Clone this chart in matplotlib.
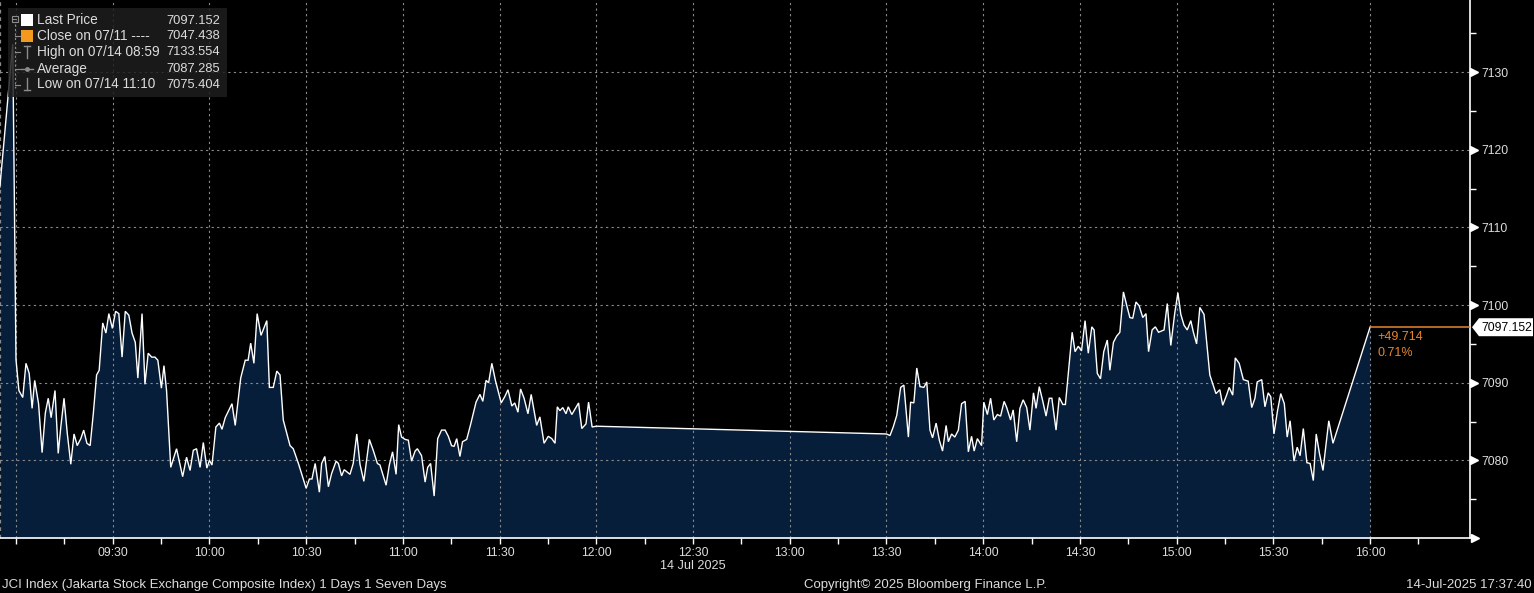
import matplotlib
matplotlib.use("Agg")
import matplotlib.pyplot as plt
import matplotlib.transforms as mtransforms
from matplotlib.patches import Rectangle, Polygon
from matplotlib.ticker import FixedLocator, FixedFormatter
import numpy as np

# ---------------- data (minutes after 09:00, index level) ----------------
morning_min = [-5, -1, 0, 0.9, 2.1, 3.1, 4.1, 5.0, 5.8, 7.0, 8.1, 9.1, 10.0, 10.9, 12.1, 13.1, 13.9, 14.9,
               15.9, 17.0, 18.0, 19.0, 20.1, 21.0, 22.0, 23.0, 24.0, 25.0, 25.8, 26.9, 27.9, 28.8, 29.9,
               30.9, 31.9, 32.9, 33.9, 35.0, 36.0, 37.0, 37.8, 39.1, 40.0, 41.0, 42.1, 43.1, 44.0, 45.1,
               45.9, 46.7, 48.0, 49.8, 51.7, 52.9, 54.0, 55.0, 56.0, 57.1, 58.1, 59.2, 60.0, 60.8, 62.0,
               63.1, 63.9, 64.9, 67.0, 68.0, 69.7, 71.1, 72.0, 72.8, 73.8, 74.8, 76.0, 77.8, 78.6, 79.8,
               80.9, 81.9, 82.9, 85.0, 86.0, 87.6, 90.0, 91.0, 91.8, 92.8, 94.1, 94.8, 95.8, 96.9, 97.9,
               99.3, 100.0, 101.0, 101.8, 103.6, 104.6, 105.7, 106.7, 107.9, 109.6, 110.8, 112.1, 112.9,
               114.8, 115.8, 116.8, 117.9, 118.7, 119.6, 120.7, 121.7, 122.7, 123.8, 124.5, 125.8, 126.9,
               127.7, 128.6, 129.7, 130.8, 132.0, 133.1, 134.1, 135.1, 135.9, 136.7, 137.7, 138.5, 139.8,
               141.0, 142.7, 143.9, 144.8, 145.8, 146.6, 147.6, 148.7, 150.5, 151.6, 152.6, 153.8, 154.7,
               155.7, 156.5, 157.6, 158.8, 159.8, 160.7, 161.5, 162.5, 163.8, 165.1, 166.2, 167.2, 167.9,
               168.7, 169.6, 170.6, 171.3, 172.4, 173.5, 174.5, 175.5, 176.8, 177.6, 178.7, 180.0]
morning_val = [7115.2, 7133.6, 7093.0, 7089.0, 7088.1, 7092.5, 7091.2, 7086.7, 7090.3, 7087.3, 7081.0, 7086.1,
               7088.0, 7085.5, 7089.0, 7080.9, 7084.3, 7088.0, 7083.5, 7079.5, 7083.4, 7081.9, 7082.8, 7083.9,
               7082.2, 7081.9, 7086.1, 7091.0, 7091.6, 7097.7, 7096.4, 7098.9, 7097.0, 7099.2, 7098.9, 7093.3,
               7099.2, 7098.7, 7096.4, 7095.2, 7090.6, 7098.9, 7089.8, 7093.8, 7093.3, 7093.3, 7092.9, 7089.3,
               7092.2, 7089.0, 7079.1, 7081.5, 7077.9, 7080.4, 7078.7, 7081.3, 7081.5, 7079.1, 7082.3, 7079.0,
               7080.0, 7079.4, 7084.3, 7084.8, 7084.0, 7085.5, 7087.3, 7084.5, 7090.6, 7092.9, 7092.9, 7095.1,
               7092.5, 7098.9, 7096.1, 7098.0, 7089.4, 7089.4, 7091.5, 7091.0, 7085.2, 7081.9, 7081.5, 7079.6,
               7076.4, 7077.6, 7077.6, 7079.6, 7075.9, 7079.6, 7080.5, 7076.6, 7078.3, 7079.9, 7079.6, 7078.0,
               7078.8, 7078.2, 7079.6, 7083.4, 7079.5, 7077.3, 7082.7, 7081.3, 7079.6, 7079.4, 7076.8, 7079.4,
               7081.1, 7078.2, 7084.6, 7083.0, 7082.7, 7082.6, 7079.9, 7081.2, 7081.5, 7080.6, 7077.2, 7079.1,
               7079.6, 7075.4, 7082.8, 7083.9, 7083.9, 7083.1, 7081.9, 7081.8, 7082.8, 7080.5, 7082.4, 7082.7,
               7084.6, 7087.5, 7088.5, 7087.6, 7090.3, 7090.0, 7092.5, 7090.3, 7087.4, 7088.2, 7089.1, 7087.0,
               7087.4, 7086.2, 7089.2, 7088.0, 7086.0, 7088.5, 7086.4, 7084.5, 7085.6, 7082.2, 7083.1, 7082.8,
               7082.2, 7086.9, 7086.4, 7086.8, 7086.0, 7086.9, 7085.9, 7086.7, 7087.4, 7084.1, 7084.7, 7087.5,
               7084.3, 7084.4]

afternoon_min = [270.0, 271.1, 272.1, 273.2, 274.4, 275.4, 276.8, 277.5, 278.5, 279.4, 280.4, 281.6, 282.5,
                 283.5, 284.3, 285.4, 286.4, 287.4, 288.5, 289.2, 290.2, 291.2, 292.3, 293.3, 294.4, 295.4,
                 296.4, 297.2, 298.2, 299.5, 300.2, 301.3, 302.3, 303.3, 304.4, 305.4, 306.5, 307.3, 308.5,
                 309.3, 310.4, 311.4, 312.4, 313.5, 314.5, 315.6, 316.4, 317.4, 318.5, 319.5, 320.5, 321.3,
                 322.6, 323.6, 324.7, 325.5, 326.7, 327.6, 328.5, 329.5, 330.5, 331.6, 332.6, 333.7, 334.4,
                 335.4, 336.4, 337.4, 338.5, 339.3, 340.4, 341.4, 342.4, 343.5, 344.5, 345.5, 346.4, 347.4,
                 348.4, 349.5, 350.5, 351.3, 352.4, 353.4, 354.4, 356.1, 357.1, 358.2, 359.4, 360.4, 361.3,
                 362.3, 363.3, 364.4, 365.2, 366.2, 367.2, 368.5, 370.3, 372.2, 373.4, 374.3, 375.5, 376.3,
                 377.4, 378.2, 379.4, 380.7, 382.2, 383.3, 384.3, 385.0, 386.4, 387.4, 388.4, 389.2, 390.2,
                 391.3, 392.3, 393.4, 394.3, 395.2, 396.4, 397.4, 398.3, 399.3, 400.4, 401.4, 402.4, 403.3,
                 404.3, 405.4, 407.2, 408.5, 420.0]
afternoon_val = [7083.4, 7083.2, 7084.3, 7085.8, 7089.4, 7089.7, 7083.0, 7087.5, 7087.4, 7091.9, 7089.5,
                 7089.4, 7090.1, 7083.9, 7082.9, 7084.8, 7082.6, 7081.2, 7084.5, 7082.4, 7083.4, 7083.0,
                 7083.9, 7087.3, 7087.6, 7081.1, 7083.1, 7081.2, 7082.8, 7081.9, 7087.5, 7085.9, 7088.0,
                 7085.2, 7085.9, 7085.7, 7087.6, 7086.8, 7085.2, 7086.5, 7082.4, 7086.7, 7087.8, 7086.8,
                 7083.9, 7088.7, 7086.7, 7089.5, 7087.6, 7085.7, 7088.0, 7088.0, 7083.9, 7088.1, 7087.2,
                 7087.2, 7092.5, 7096.5, 7094.0, 7094.7, 7094.1, 7098.0, 7093.8, 7097.2, 7096.8, 7091.2,
                 7090.5, 7094.0, 7095.5, 7091.6, 7095.2, 7096.0, 7096.5, 7101.7, 7100.0, 7098.4, 7098.3,
                 7100.4, 7099.9, 7098.4, 7098.9, 7094.0, 7096.8, 7097.2, 7096.5, 7096.8, 7100.2, 7094.8,
                 7098.9, 7101.6, 7098.8, 7097.4, 7096.8, 7098.0, 7096.5, 7095.0, 7099.7, 7098.8, 7091.0,
                 7088.6, 7089.1, 7087.1, 7088.4, 7089.4, 7088.4, 7093.2, 7092.5, 7090.4, 7090.2, 7086.8,
                 7088.0, 7090.1, 7090.4, 7086.9, 7088.7, 7088.2, 7083.4, 7086.4, 7088.6, 7087.3, 7083.0,
                 7085.1, 7079.9, 7081.7, 7080.6, 7084.1, 7079.7, 7079.6, 7077.4, 7083.4, 7080.9, 7078.7,
                 7085.1, 7082.2, 7097.152]

x_tick_min = [0, 30, 60, 90, 120, 150, 180, 210, 240, 270, 300, 330, 360, 390, 420]
x_tick_labels = ["", "09:30", "10:00", "10:30", "11:00", "11:30", "12:00", "12:30", "13:00",
                 "13:30", "14:00", "14:30", "15:00", "15:30", "16:00"]
y_ticks = [7080, 7090, 7100, 7110, 7120, 7130]

legend_labels = ["Last Price", "Close on 07/11 ----", "High on 07/14 08:59", "Average",
                 "Low on 07/14 11:10"]
legend_values = ["7097.152", "7047.438", "7133.554", "7087.285", "7075.404"]
last_price = 7097.152
prev_close = 7047.438

# ---------------- style ----------------
FONT = ["Liberation Sans", "DejaVu Sans"]
plt.rcParams["font.family"] = FONT
TXT = "#dcdcdc"
NAVY = "#061e3a"
ORANGE = "#e8862e"
GRID = "#8a8a8a"
FS = 8.8

W, H = 1534, 593
fig = plt.figure(figsize=(W / 100, H / 100), dpi=100, facecolor="black")
ax = fig.add_axes([0, (H - 538) / H, 1470 / W, 538 / H])
ax.set_facecolor("black")

t = np.array(morning_min + afternoon_min, dtype=float)
v = np.array(morning_val + afternoon_val, dtype=float)

XMIN, XMAX = -4.96, 451.0
YMIN, YMAX = 7070.0, 7139.3
ax.set_xlim(XMIN, XMAX)
ax.set_ylim(YMIN, YMAX)

ax.fill_between(t, v, YMIN, color=NAVY, lw=0, zorder=1)
ax.plot(t, v, color="white", lw=1.0, zorder=3, solid_joinstyle="miter")

# grid
for xm in x_tick_min:
    ax.axvline(xm, color=GRID, lw=0.8, ls=(0, (2, 3)), zorder=2)
for yv in y_ticks:
    ax.axhline(yv, color=GRID, lw=0.8, ls=(0, (2, 3)), zorder=2)
ax.axvline(XMIN + 0.1, color=GRID, lw=0.9, ls=(0, (3, 3)), zorder=2, clip_on=False)

# last price line + change text
ax.hlines(last_price, 420, XMAX, color=ORANGE, lw=1.1, zorder=4)
chg = last_price - prev_close
pct = chg / prev_close * 100
ax.text(422.3, last_price - 1.2, f"+{chg:.3f}", color=ORANGE, fontsize=FS + 0.2, va="center", ha="left")
ax.text(422.3, last_price - 3.3, f"{pct:.2f}%", color=ORANGE, fontsize=FS + 0.2, va="center", ha="left")

# spines
for s in ["top", "left"]:
    ax.spines[s].set_visible(False)
ax.spines["bottom"].set_color("white")
ax.spines["right"].set_color("white")
ax.spines["bottom"].set_linewidth(1.2)
ax.spines["right"].set_linewidth(1.2)

# x axis ticks
ax.xaxis.set_major_locator(FixedLocator(x_tick_min))
ax.xaxis.set_major_formatter(FixedFormatter(x_tick_labels))
ax.xaxis.set_minor_locator(FixedLocator([m + 15 for m in x_tick_min]))
ax.tick_params(axis="x", which="both", colors="white", labelcolor=TXT, length=4, width=1,
               direction="out", labelsize=FS, pad=2.5)

# y axis ticks (right)
ax.yaxis.tick_right()
ax.yaxis.set_major_locator(FixedLocator(y_ticks))
ax.yaxis.set_minor_locator(FixedLocator([y + 5 for y in [7070] + y_ticks]))
ax.tick_params(axis="y", which="major", length=0, labelcolor=TXT, labelsize=FS, pad=8)
ax.tick_params(axis="y", which="minor", length=4, width=1, colors="white", direction="out")

tri_tr = mtransforms.offset_copy(ax.get_yaxis_transform(), fig=fig, x=4, y=0, units="dots")
ax.plot([1.0] * len(y_ticks), y_ticks, ls="none", marker=">", ms=6, color="white",
        transform=tri_tr, clip_on=False, zorder=5)

# overlay in pixel coordinates for annotations
ov = fig.add_axes([0, 0, 1, 1], zorder=10)
ov.set_xlim(0, W)
ov.set_ylim(H, 0)
ov.axis("off")
ov.patch.set_alpha(0)

# x axis arrow
ov.plot([1475], [538], marker=">", ms=6, color="white", ls="none")

# last price box
fig.canvas.draw()
ydisp = ax.transData.transform((0, last_price))[1]
py = H - ydisp
box = Polygon([[1472, py], [1479, py - 9], [1533, py - 9], [1533, py + 9], [1479, py + 9]],
              closed=True, facecolor="white", edgecolor="none")
ov.add_patch(box)
ov.text(1481, py + 0.5, f"{last_price:.3f}", color="black", fontsize=FS, va="center", ha="left")

# date label under axis
ov.text(693, 566, "14 Jul 2025", color=TXT, fontsize=FS + 0.3, ha="center", va="center")

# footer
FFS = 9.5
ov.text(2, 585, "JCI Index (Jakarta Stock Exchange Composite Index) 1 Days 1 Seven Days",
        color=TXT, fontsize=FFS, ha="left", va="center")
ov.text(926, 585, "Copyright\u00a9 2025 Bloomberg Finance L.P.", color=TXT, fontsize=FFS,
        ha="center", va="center")
ov.text(1532, 585, "14-Jul-2025 17:37:40", color=TXT, fontsize=FFS, ha="right", va="center")

# legend
ov.add_patch(Rectangle((8, 8), 219, 89, facecolor="#1e1e1e", alpha=0.85, edgecolor="none"))
rows = [20.5, 36, 52, 68.5, 84.5]
lg = "#8c8c8c"
# tree lines
ov.plot([15, 15], [24, 88], color=lg, lw=0.8, ls=(0, (2, 2)))
for ry in rows[1:]:
    ov.plot([15, 20], [ry, ry], color=lg, lw=0.8)
# collapse box
ov.add_patch(Rectangle((11.5, 15.5), 6, 6, facecolor="none", edgecolor=lg, lw=0.8))
ov.plot([13, 16], [18.5, 18.5], color=lg, lw=0.8)
# squares
ov.add_patch(Rectangle((21, 14), 12, 12, facecolor="white", edgecolor="none"))
ov.add_patch(Rectangle((21, 30), 12, 12, facecolor="#f39a1e", edgecolor="none"))
# high glyph
ov.plot([24, 30], [46, 46], color=lg, lw=1)
ov.plot([27, 27], [46, 58], color=lg, lw=1)
# average glyph
ov.plot([21, 33], [68.5, 68.5], color=lg, lw=1)
ov.plot([27], [68.5], marker="o", ms=2.5, color=lg)
# low glyph
ov.plot([27, 27], [78, 90], color=lg, lw=1)
ov.plot([24, 30], [90, 90], color=lg, lw=1)
for ry, lab, val in zip(rows, legend_labels, legend_values):
    ov.text(37, ry, lab, color=TXT, fontsize=9.8, ha="left", va="center")
    ov.text(220, ry, val, color=TXT, fontsize=9.3, ha="right", va="center")

fig.savefig("out.png", dpi=100, facecolor="black")
